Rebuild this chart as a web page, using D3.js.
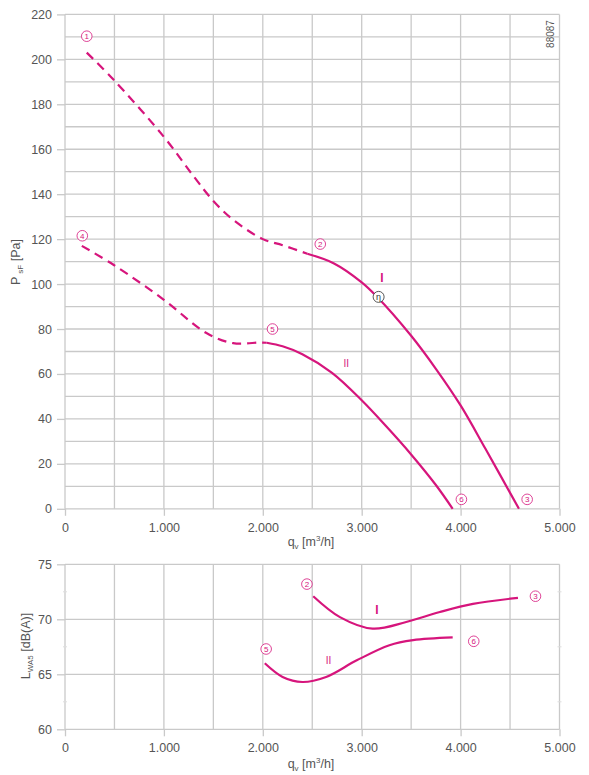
<!DOCTYPE html>
<html>
<head>
<meta charset="utf-8">
<script src="https://cdn.jsdelivr.net/npm/d3@7"></script>
<style>
	body { margin: 0; background: #fff; }
	svg { font-family: "Liberation Sans", Arial, sans-serif; }
</style>
</head>
<body>
<svg id="chart" width="589" height="775"></svg>
<script>
// pressure curves, [q_v m3/h, p_sF Pa]
var curveI_dashed = [[220, 203], [490, 191], [1000, 165.5], [1300, 148], [1500, 137], [1700, 128.6], [2000, 120], [2200, 117.3], [2450, 113.5]];
var curveI_solid = [[2450, 113.5], [2720, 109.2], [3000, 100.8], [3150, 94.6], [3500, 77], [3750, 62.3], [4000, 46], [4250, 26.8], [4590, 0]];
var curveII_dashed = [[170, 117], [490, 108.6], [1000, 93], [1430, 78.2], [1700, 73.7], [1970, 74], [2040, 73.9]];
var curveII_solid = [[2040, 73.9], [2200, 72.3], [2400, 68.8], [2700, 60.5], [3000, 48.3], [3250, 36.6], [3500, 24.2], [3750, 10.6], [3920, 0]];

// sound power curves, [q_v m3/h, L_WA5 dB(A)]
var noiseI = [[2510, 72.1], [2780, 70.2], [3110, 69.15], [3450, 69.75], [3790, 70.66], [4125, 71.4], [4580, 71.95]];
var noiseII = [[2020, 66.0], [2200, 64.76], [2400, 64.3], [2640, 64.76], [2950, 66.27], [3280, 67.64], [3520, 68.1], [3920, 68.35]];

// operating point markers [label, q_v, value]
var topMarks = [["1", 220, 210.3], ["2", 2581, 117.8], ["3", 4673, 4.2], ["4", 175, 121.5], ["5", 2098, 80], ["6", 4008, 4.2]];
var bottomMarks = [["2", 2446, 73.2], ["3", 4757, 72.1], ["5", 2034, 67.3], ["6", 4133, 68.0]];
var topCurveLabels = [["I", 3205, 103], ["II", 2844, 64.5]];
var bottomCurveLabels = [["I", 3155, 70.9], ["II", 2665, 66.3]];
var etaPoint = [3171, 94.3];

var xTicks = [0, 1000, 2000, 3000, 4000, 5000];
var pTicks = [0, 20, 40, 60, 80, 100, 120, 140, 160, 180, 200, 220];
var lTicks = [60, 65, 70, 75];

var pink = "#d6157c";
var gridColor = "#c9c9c9";
var textColor = "#555";

var svg = d3.select("#chart");
var locale = d3.formatLocale({ decimal: ",", thousands: ".", grouping: [3], currency: ["", ""] });
var fmt = locale.format(",");

var x = d3.scaleLinear().domain([0, 5000]).range([65, 559.5]);
var yP = d3.scaleLinear().domain([0, 220]).range([508.8, 14.4]);
var yL = d3.scaleLinear().domain([60, 75]).range([729.3, 564.3]);

function drawPanel(y, yMin, yMax, yStep, yTicks) {
	var g = svg.append("g");
	var vx = d3.range(0, 5001, 500);
	g.selectAll(".v").data(vx).enter().append("line")
		.attr("x1", function (d) { return x(d); })
		.attr("x2", function (d) { return x(d); })
		.attr("y1", y(yMin)).attr("y2", y(yMax))
		.attr("stroke", gridColor).attr("stroke-width", 1.3);
	var hy = d3.range(yMin, yMax + 0.01, yStep);
	g.selectAll(".h").data(hy).enter().append("line")
		.attr("x1", x(0)).attr("x2", x(5000))
		.attr("y1", function (d) { return y(d); })
		.attr("y2", function (d) { return y(d); })
		.attr("stroke", gridColor).attr("stroke-width", 1.3);

	var yAxis = d3.axisLeft(y).tickValues(yTicks).tickSize(8).tickPadding(5);
	var ya = g.append("g").attr("transform", "translate(" + x(0) + ",0)").call(yAxis);
	var xAxis = d3.axisBottom(x).tickValues(xTicks).tickSize(7).tickPadding(7).tickFormat(fmt);
	var xa = g.append("g").attr("transform", "translate(0," + y(yMin) + ")").call(xAxis);
	[ya, xa].forEach(function (a) {
		a.select(".domain").remove();
		a.selectAll("line").attr("stroke", gridColor).attr("stroke-width", 1.3);
		a.selectAll("text").attr("fill", textColor).style("font-size", "12.5px")
			.style("font-family", "Liberation Sans, Arial, sans-serif");
	});
	return g;
}

drawPanel(yP, 0, 220, 10, pTicks);
drawPanel(yL, 60, 75, 5, lTicks);

// small half-step ticks on the sound panel edges
[62.5, 67.5, 72.5].forEach(function (v) {
	[x(0), x(5000)].forEach(function (px) {
		svg.append("line").attr("x1", px - 2).attr("x2", px + 2)
			.attr("y1", yL(v)).attr("y2", yL(v))
			.attr("stroke", "#ddd").attr("stroke-width", 1);
	});
});

function drawCurve(data, y, dashed) {
	var line = d3.line()
		.x(function (d) { return x(d[0]); })
		.y(function (d) { return y(d[1]); })
		.curve(d3.curveCatmullRom.alpha(0.5));
	svg.append("path").datum(data)
		.attr("d", line)
		.attr("fill", "none")
		.attr("stroke", pink)
		.attr("stroke-width", 2.2)
		.attr("stroke-dasharray", dashed ? "9,6" : null);
}

drawCurve(curveI_dashed, yP, true);
drawCurve(curveI_solid, yP, false);
drawCurve(curveII_dashed, yP, true);
drawCurve(curveII_solid, yP, false);
drawCurve(noiseI, yL, false);
drawCurve(noiseII, yL, false);

function drawMarks(marks, y) {
	var m = svg.append("g").selectAll("g").data(marks).enter().append("g")
		.attr("transform", function (d) { return "translate(" + x(d[1]) + "," + y(d[2]) + ")"; });
	m.append("circle").attr("r", 5.3).attr("fill", "#fff")
		.attr("stroke", pink).attr("stroke-width", 0.8);
	m.append("text").text(function (d) { return d[0]; })
		.attr("text-anchor", "middle").attr("dy", "0.35em")
		.attr("fill", pink).style("font-size", "8px");
}
drawMarks(topMarks, yP);
drawMarks(bottomMarks, yL);

function drawCurveLabels(labels, y) {
	svg.append("g").selectAll("text").data(labels).enter().append("text")
		.attr("x", function (d) { return x(d[1]); })
		.attr("y", function (d) { return y(d[2]); })
		.attr("dy", "0.35em")
		.attr("text-anchor", "middle")
		.attr("fill", pink)
		.style("font-size", function (d) { return d[0] == "I" ? "12px" : "10px"; })
		.style("font-weight", function (d) { return d[0] == "I" ? "bold" : "normal"; })
		.text(function (d) { return d[0]; });
}
drawCurveLabels(topCurveLabels, yP);
drawCurveLabels(bottomCurveLabels, yL);

// efficiency point
var eta = svg.append("g").attr("transform", "translate(" + x(etaPoint[0]) + "," + yP(etaPoint[1]) + ")");
eta.append("circle").attr("r", 5.5).attr("fill", "#fff").attr("stroke", "#444").attr("stroke-width", 0.9);
eta.append("text").text("η").attr("text-anchor", "middle").attr("dy", "0.3em")
	.attr("fill", "#333").style("font-size", "9px");

// axis titles
function xTitle(yPos) {
	var t = svg.append("text").attr("x", 311).attr("y", yPos).attr("text-anchor", "middle")
		.attr("fill", textColor).style("font-size", "12.5px");
	t.append("tspan").text("q");
	t.append("tspan").text("v").attr("dy", 3).style("font-size", "8px");
	t.append("tspan").text(" [m").attr("dy", -3);
	t.append("tspan").text("3").attr("dy", -5).style("font-size", "8px");
	t.append("tspan").text("/h]").attr("dy", 5);
}
xTitle(546);
xTitle(768);

var pt = svg.append("text").attr("transform", "translate(20,262) rotate(-90)")
	.attr("text-anchor", "middle").attr("fill", textColor).style("font-size", "12.5px");
pt.append("tspan").text("P");
pt.append("tspan").text("sF").attr("dy", 3).attr("dx", 3).style("font-size", "8px");
pt.append("tspan").text(" [Pa]").attr("dy", -3);

var lt = svg.append("text").attr("transform", "translate(30,646) rotate(-90)")
	.attr("text-anchor", "middle").attr("fill", textColor).style("font-size", "12.5px");
lt.append("tspan").text("L");
lt.append("tspan").text("WA5").attr("dy", 3).style("font-size", "8px");
lt.append("tspan").text(" [dB(A)]").attr("dy", -3);

// drawing number
svg.append("text").attr("transform", "translate(554,34) rotate(-90)")
	.attr("text-anchor", "middle").attr("fill", textColor).style("font-size", "10px")
	.text("88087");
</script>
</body>
</html>
